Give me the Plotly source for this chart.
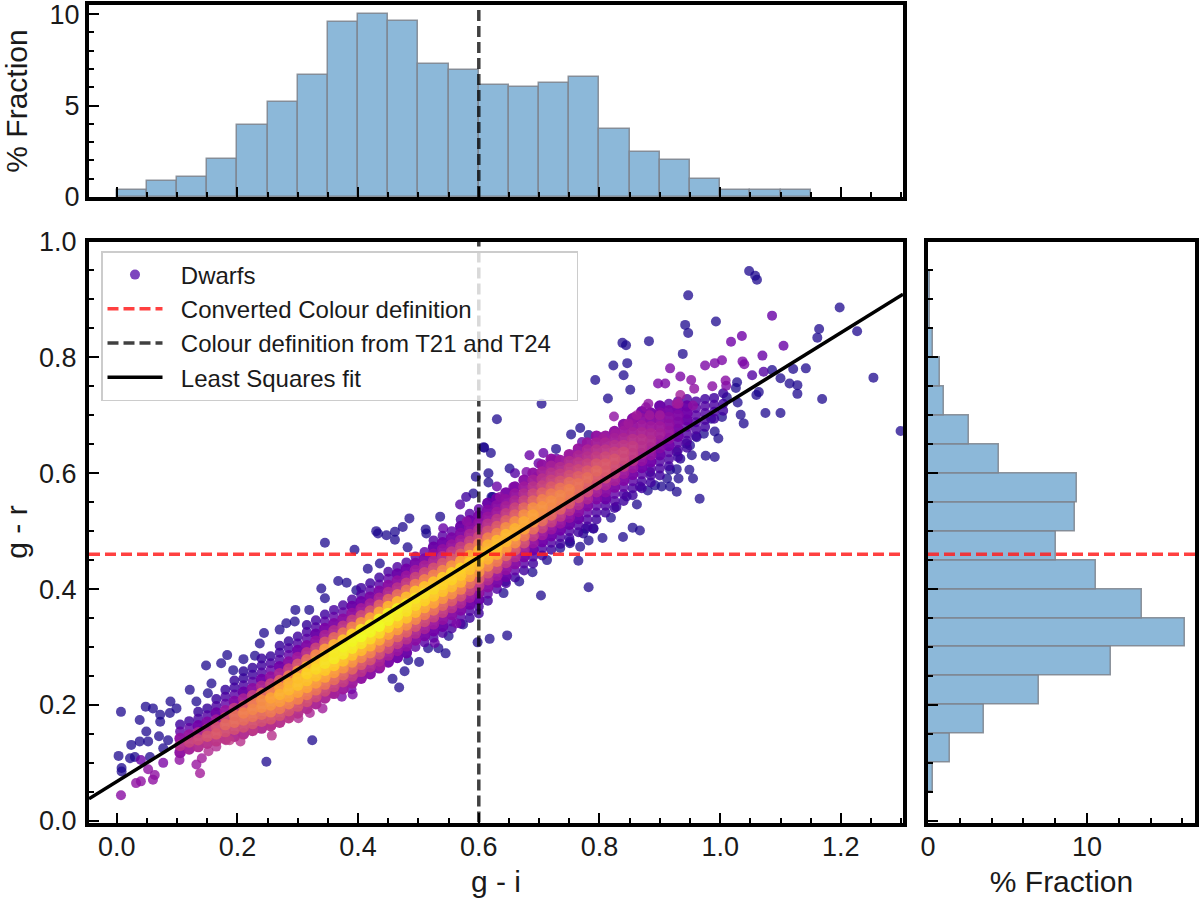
import numpy as np
import plotly.graph_objects as go

# All colour values are stored in thousandths of a magnitude, densities in percent.
hist_gi_edges = [round(i * 0.05, 2) for i in range(23)]
hist_gi_share = [0.4, 0.85, 1.07, 2.1, 3.93, 5.18, 6.68, 9.55, 10.0, 9.65, 7.27, 6.92,
                 6.1, 6.0, 6.23, 6.58, 3.7, 2.45, 2.0, 0.96, 0.4, 0.4, 0.4]
hist_gr_edges = [round(0.05 + i * 0.05, 2) for i in range(18)]
hist_gr_share = [0.33, 1.38, 3.52, 6.96, 11.5, 16.2, 13.46, 10.55, 8.03, 9.25, 9.35,
                 4.45, 2.6, 1.0, 0.75, 0.33, 0.12, 0.1]

gr_definition = 0.46
gi_definition = 0.6
fit_gi = [-0.046, 1.303]
fit_gr = [0.038, 0.909]

# The crowded ridge of the sample: one gi value per column, with its gr values and densities.
band_gi = [105, 120, 135, 150, 165, 180, 195, 210, 225, 240, 255, 270, 285, 300, 315, 330, 345,
           360, 375, 390, 405, 420, 435, 450, 465, 480, 495, 510, 525, 540, 555, 570, 585, 600,
           615, 630, 645, 660, 675, 690, 705, 720, 735, 750, 765, 780, 795, 810, 825, 840, 855,
           870, 885, 900, 915, 930, 945, 960, 975, 990, 1005]
band_gr = [
    [118,130,142,154,166], [124,136,148,160,172], [128,140,152,164,176,188],
    [134,146,158,170,182,194], [138,150,162,174,186,198,210], [142,154,166,178,190,202,214,226],
    [146,158,170,182,194,206,218,230,242], [150,162,174,186,198,210,222,234,246,258],
    [156,168,180,192,204,216,228,240,252,264], [160,172,184,196,208,220,232,244,256,268,280],
    [164,176,188,200,212,224,236,248,260,272,284], [170,182,194,206,218,230,242,254,266,278,290,302],
    [178,190,202,214,226,238,250,262,274,286,298,310], [186,198,210,222,234,246,258,270,282,294,306,318],
    [194,206,218,230,242,254,266,278,290,302,314,326,338], [202,214,226,238,250,262,274,286,298,310,322,334,346],
    [212,224,236,248,260,272,284,296,308,320,332,344,356], [220,232,244,256,268,280,292,304,316,328,340,352,364],
    [228,240,252,264,276,288,300,312,324,336,348,360,372], [238,250,262,274,286,298,310,322,334,346,358,370,382],
    [246,258,270,282,294,306,318,330,342,354,366,378,390,402], [254,266,278,290,302,314,326,338,350,362,374,386,398,410],
    [264,276,288,300,312,324,336,348,360,372,384,396,408,420], [274,286,298,310,322,334,346,358,370,382,394,406,418,430],
    [282,294,306,318,330,342,354,366,378,390,402,414,426,438], [290,302,314,326,338,350,362,374,386,398,410,422,434,446],
    [300,312,324,336,348,360,372,384,396,408,420,432,444,456], [308,320,332,344,356,368,380,392,404,416,428,440,452,464],
    [316,328,340,352,364,376,388,400,412,424,436,448,460,472,484], [324,336,348,360,372,384,396,408,420,432,444,456,468,480,492],
    [332,344,356,368,380,392,404,416,428,440,452,464,476,488,500], [340,352,364,376,388,400,412,424,436,448,460,472,484,496,508,520],
    [350,362,374,386,398,410,422,434,446,458,470,482,494,506,518,530], [358,370,382,394,406,418,430,442,454,466,478,490,502,514,526,538],
    [380,392,404,416,428,440,452,464,476,488,500,512,524,536,548], [400,412,424,436,448,460,472,484,496,508,520,532,544,556],
    [410,422,434,446,458,470,482,494,506,518,530,542,554,566], [420,432,444,456,468,480,492,504,516,528,540,552,564,576],
    [432,444,456,468,480,492,504,516,528,540,552,564,576,588], [444,456,468,480,492,504,516,528,540,552,564,576,588,600],
    [458,470,482,494,506,518,530,542,554,566,578,590,602,614], [468,480,492,504,516,528,540,552,564,576,588,600,612,624],
    [478,490,502,514,526,538,550,562,574,586,598,610,622], [488,500,512,524,536,548,560,572,584,596,608,620,632],
    [498,510,522,534,546,558,570,582,594,606,618,630,642], [508,520,532,544,556,568,580,592,604,616,628,640,652],
    [520,532,544,556,568,580,592,604,616,628,640,652,664], [532,544,556,568,580,592,604,616,628,640,652,664],
    [540,552,564,576,588,600,612,624,636,648,660,672], [552,564,576,588,600,612,624,636,648,660,672,684],
    [562,574,586,598,610,622,634,646,658,670,682,694], [574,586,598,610,622,634,646,658,670,682,694,706],
    [584,596,608,620,632,644,656,668,680,692,704], [596,608,620,632,644,656,668,680,692,704,716],
    [612,624,636,648,660,672,684,696,708,720], [628,640,652,664,676,688,700,712,724],
    [644,656,668,680,692,704,716,728], [664,676,688,700,712,724], [680,692,704,716,728],
    [694,706,718,730], [708,720,738],
]
band_density = [
    [30,42,30,18,10], [36,48,32,18,10], [40,50,38,22,12,8], [42,54,44,26,14,8], [44,56,52,34,20,12,8],
    [44,52,60,50,32,18,12,8], [40,52,62,62,44,26,16,10,8], [40,52,62,68,56,36,20,12,8,6],
    [42,54,64,70,66,46,28,16,10,8], [40,52,62,72,72,60,38,22,14,10,8], [42,54,66,74,78,68,48,30,18,12,8],
    [42,54,66,76,82,76,58,38,22,14,10,8], [44,54,68,78,84,82,66,46,28,18,12,8], [42,54,68,78,86,86,74,54,34,22,14,10],
    [40,52,66,78,86,90,82,62,42,26,16,12,8], [38,50,64,76,86,92,88,70,48,30,20,14,10],
    [38,50,64,78,88,94,92,76,54,36,24,16,10], [36,48,62,76,88,96,96,82,60,40,26,18,12],
    [34,46,60,74,86,96,98,86,64,44,28,18,12], [34,46,60,74,86,96,99,90,68,46,30,20,12],
    [30,42,56,70,84,94,100,94,74,50,34,22,14,10], [28,40,54,68,82,92,99,96,78,54,36,24,16,10],
    [28,38,52,66,80,92,100,98,80,58,38,26,16,10], [24,36,50,64,78,90,98,98,82,60,40,28,18,12],
    [22,32,46,60,76,88,96,98,84,62,42,30,20,14], [20,30,42,58,72,86,94,96,84,64,46,32,22,14],
    [18,28,40,54,70,84,92,95,86,66,48,34,24,16], [16,24,36,50,66,80,90,94,86,68,50,36,26,18],
    [14,22,34,48,64,78,88,92,86,68,52,38,28,20,14], [14,20,30,46,60,74,86,90,88,70,54,40,30,22,16],
    [12,18,28,42,56,72,84,90,90,74,56,44,32,24,18], [12,16,26,38,52,68,82,88,90,78,58,46,34,26,20,14],
    [10,14,22,34,48,62,78,86,88,80,62,48,38,28,22,16], [10,12,20,30,44,58,74,84,88,82,66,50,40,30,24,18],
    [10,18,28,40,54,70,82,86,82,68,52,42,32,26,20], [14,24,34,50,66,80,86,84,70,56,44,34,28,22],
    [12,20,30,44,60,76,84,84,72,58,46,36,30,24], [10,18,28,40,56,72,82,82,72,58,48,38,32,26],
    [10,16,24,36,52,66,78,80,72,60,48,40,34,28], [10,14,22,32,46,62,74,78,72,60,50,42,36,30],
    [10,14,22,34,48,62,72,74,68,58,48,42,36,30], [10,14,22,32,46,60,70,72,66,56,48,42,36,30],
    [10,14,22,32,44,58,68,70,64,54,46,40,34], [10,14,20,30,42,56,66,68,62,52,46,40,34],
    [10,14,20,28,40,52,62,64,58,50,44,38,32], [10,14,18,26,38,50,58,62,56,48,42,38,32],
    [10,12,18,26,36,48,56,60,54,46,42,36,30], [10,14,20,28,38,50,56,56,50,44,38,32],
    [10,14,18,26,36,46,52,54,48,42,36,30], [10,12,18,26,34,44,50,50,44,38,34,28],
    [10,12,16,24,32,42,46,46,42,36,32,26], [10,12,16,22,30,38,42,42,38,34,30,24],
    [10,12,16,22,30,36,40,38,34,28,24], [10,12,14,20,26,32,36,34,30,26,20],
    [10,12,16,22,28,32,30,28,24,18], [10,12,16,20,24,26,26,22,16],
    [10,12,14,18,20,22,20,14], [10,12,14,16,16,12], [10,12,14,14,10], [10,12,12,10], [10,10,8],
]

# Isolated dwarfs far from the ridge.
sparse_gi = [1048,1058,1061,947,1198,993,942,947,1164,1227,1161,882,838,844,938,846,823,1254,840,793,
             1142,1121,1086,1100,1115,1128,1128,1169,1075,1100,1299,851,814,704,630,609,620,1028,1026,1011,
             1064,1060,1029,1034,1039,1003,985,768,753,782,728,651,616,616,623,961,973,991,997,976,
             991,950,953,949,955,917,928,931,912,903,917,892,880,928,966,862,819,855,867,790,
             777,805,839,782,768,751,735,713,765,689,667,644,641,703,782,618,647,598,7,3,
             8,8,22,30,24,38,49,52,38,48,60,72,72,89,99,88,70,85,77,55,
             121,132,148,157,151,173,183,193,210,229,237,244,270,281,295,296,319,339,345,367,
             381,397,416,436,574,550,545,533,516,501,483,477,457,468,324,248,345,394,482,433,
             447,461,513,608,595,591,536,485,474,461,430,512,621]
sparse_gr = [949,941,934,907,886,862,856,842,849,845,834,828,825,821,806,790,786,765,769,761,
             781,780,778,764,755,752,737,728,704,704,673,744,729,720,693,644,635,757,747,731,
             740,735,722,701,686,697,694,678,667,666,642,608,600,584,559,662,668,672,660,630,
             628,648,631,606,591,606,607,591,591,577,577,579,570,568,556,546,523,506,501,504,
             504,488,490,484,473,482,471,450,449,429,413,413,393,389,403,314,320,308,188,112,
             91,85,108,110,131,137,154,137,174,197,194,183,171,206,194,186,146,139,125,110,
             226,206,268,237,220,272,286,260,279,285,306,324,330,341,344,364,364,401,384,414,
             411,398,435,444,339,319,289,298,298,274,277,258,245,230,139,102,480,468,472,496,
             493,485,496,645,594,565,525,522,507,499,500,503,559]
sparse_density = [3] * len(sparse_gi)

# Points on the fringe of the ridge, a little less isolated.
fringe_gi = [1086,1036,1018,1105,1070,1003,991,975,1037,1040,917,934,1072,1053,897,909,952,957,987,1009,
             1010,934,928,881,877,858,842,824,771,707,684,721,699,679,660,630,7,32,40,60,
             63,40,77,52,104,132,138,141,152,165,391,373,389,357,341,320,301,287,257,257,
             205,181,580,541,569,579,
             806,826,848,862,883,900,751,729,721,696,657,635,931,955,928,944,934,884,867,845,
             828,790,773,751,527,563,437,396,304,226,187]
fringe_gr = [872,837,827,820,803,795,790,786,793,788,781,767,775,769,755,755,761,746,750,760,
             751,735,720,720,714,697,682,698,654,635,631,618,617,602,600,577,44,65,68,71,
             79,105,100,89,105,97,82,108,120,128,218,214,227,220,194,186,177,182,147,166,
             137,139,517,505,546,559,
             660,668,686,700,700,700,631,625,622,594,576,559,720,717,637,651,625,602,577,560,
             542,505,496,479,307,341,266,255,206,157,139]
fringe_density = [20,22,22,20,20,25,25,25,25,25,25,25,15,15,25,25,28,30,28,28,
                  25,35,35,30,30,32,32,30,20,20,20,20,20,25,15,20,28,30,30,30,
                  30,20,25,30,30,32,35,35,40,40,25,25,22,30,35,38,40,42,42,42,
                  42,42,30,20,15,10,
                  35,35,35,35,35,35,30,20,20,30,25,30,35,30,5,5,5,8,10,8,
                  8,8,5,5,20,25,35,40,42,45,45]

WIDTH, HEIGHT = 1200, 900
FONT = "Liberation Sans"
TICK_SIZE = 27
TITLE_SIZE = 30
BAR_FILL = "#8cb8d9"
BAR_EDGE = "rgba(125,130,140,0.85)"
RED = "rgba(255,30,30,0.85)"
DARK = "rgba(0,0,0,0.75)"
DASH = "11px,5px"
NBSP = "\u00a0"


def hspan(left, right):
    return [left / WIDTH, right / WIDTH]


def vspan(top, bottom):
    return [1 - bottom / HEIGHT, 1 - top / HEIGHT]


def frame(**extra):
    return dict(showline=True, mirror=True, linewidth=4, linecolor="black", showgrid=False,
                zeroline=False, automargin=False, ticks="inside", ticklen=10, tickwidth=1.5,
                tickcolor="black", ticklabeloverflow="allow",
                tickfont=dict(family=FONT, size=TICK_SIZE, color="#1a1a1a"), **extra)


def minor(step):
    return dict(ticks="inside", dtick=step, ticklen=5, tickwidth=1.5, tickcolor="black")


# Merge the ridge columns with the outlying points, densest drawn last.
dense_x = [g for g, col in zip(band_gi, band_gr) for _ in col]
dense_y = [v for col in band_gr for v in col]
dense_d = [v for col in band_density for v in col]
all_x = np.array(dense_x + fringe_gi + sparse_gi) / 1000
all_y = np.array(dense_y + fringe_gr + sparse_gr) / 1000
all_d = np.array(dense_d + fringe_density + sparse_density) / 100
# The crowded points pile up and read as opaque; the scattered ones stay translucent.
all_alpha = np.array([0.97 if v >= 20 else 0.82 for v in dense_d]
                     + [0.8] * len(fringe_gi) + [0.75] * len(sparse_gi))
all_size = np.array([11.5 if v >= 20 else 10 for v in dense_d]
                    + [10] * (len(fringe_gi) + len(sparse_gi)))
order = np.argsort(all_d)

x_range = [-0.046, 1.303]
y_range = [-0.003, 1.0]
top_range = [0, 10.5]
side_range = [0, 16.8]

fig = go.Figure()
fig.add_trace(go.Scatter(
    x=all_x[order], y=all_y[order], mode="markers", showlegend=False,
    marker=dict(size=all_size[order], color=all_d[order], colorscale="Plasma", cmin=0, cmax=1,
                opacity=all_alpha[order], line=dict(width=0)),
))
fig.add_trace(go.Scatter(
    x=[None], y=[None], mode="markers", name=NBSP * 2 + "Dwarfs",
    marker=dict(size=10, color="rgb(125,70,190)"),
))
fig.add_trace(go.Scatter(
    x=x_range, y=[gr_definition, gr_definition], mode="lines",
    name=NBSP * 2 + "Converted Colour definition",
    line=dict(color=RED, width=3.5, dash=DASH),
))
fig.add_trace(go.Scatter(
    x=[gi_definition, gi_definition], y=y_range, mode="lines",
    name=NBSP * 2 + "Colour definition from T21 and T24" + NBSP * 3,
    line=dict(color=DARK, width=3.5, dash=DASH),
))
fig.add_trace(go.Scatter(
    x=fit_gi, y=fit_gr, mode="lines", name=NBSP * 2 + "Least Squares fit",
    line=dict(color="black", width=3.5),
))

# Marginal distribution of g - i above the scatter.
fig.add_trace(go.Bar(
    x=hist_gi_edges, y=hist_gi_share, width=0.05, offset=0, xaxis="x2", yaxis="y2", showlegend=False,
    marker=dict(color=BAR_FILL, line=dict(color=BAR_EDGE, width=1.5)),
))
fig.add_trace(go.Scatter(
    x=[gi_definition, gi_definition], y=top_range, mode="lines", xaxis="x2", yaxis="y2", showlegend=False,
    line=dict(color=DARK, width=3.5, dash=DASH),
))

# Marginal distribution of g - r beside the scatter.
fig.add_trace(go.Bar(
    y=hist_gr_edges, x=hist_gr_share, width=0.05, offset=0, orientation="h", xaxis="x3", yaxis="y3",
    showlegend=False, marker=dict(color=BAR_FILL, line=dict(color=BAR_EDGE, width=1.5)),
))
fig.add_trace(go.Scatter(
    x=side_range, y=[gr_definition, gr_definition], mode="lines", xaxis="x3", yaxis="y3", showlegend=False,
    line=dict(color=RED, width=3.5, dash=DASH),
))

fig.update_layout(
    width=WIDTH, height=HEIGHT, autosize=False, margin=dict(l=0, r=0, t=0, b=0),
    paper_bgcolor="white", plot_bgcolor="white", bargap=0, hovermode=False,
    font=dict(family=FONT, color="#1a1a1a"),
    xaxis=frame(domain=hspan(89, 903), range=x_range, tick0=0, dtick=0.2, tickformat=".1f", anchor="y",
                minor=minor(0.05), ticklabelstandoff=-3,
                title=dict(text="g - i", font=dict(size=TITLE_SIZE), standoff=11)),
    yaxis=frame(domain=vspan(241.5, 822.5), range=y_range, tick0=0, dtick=0.2, tickformat=".1f", anchor="x",
                minor=minor(0.05), ticklabelstandoff=3,
                title=dict(text="g - r", font=dict(size=TITLE_SIZE), standoff=17)),
    xaxis2=frame(domain=hspan(89, 903), range=x_range, tick0=0, dtick=0.2, anchor="y2",
                 minor=minor(0.05), showticklabels=False),
    yaxis2=frame(domain=vspan(5, 197), range=top_range, tick0=0, dtick=5, anchor="x2",
                 minor=minor(1), title=dict(text="% Fraction", font=dict(size=TITLE_SIZE), standoff=23)),
    xaxis3=frame(domain=hspan(928, 1195), range=side_range, tick0=0, dtick=10, anchor="y3",
                 minor=minor(2), ticklabelstandoff=-3,
                 title=dict(text="% Fraction", font=dict(size=TITLE_SIZE), standoff=11)),
    yaxis3=frame(domain=vspan(241.5, 822.5), range=y_range, tick0=0, dtick=0.2, anchor="x3",
                 minor=minor(0.05), showticklabels=False),
    legend=dict(x=101 / WIDTH, y=1 - 251 / HEIGHT, xanchor="left", yanchor="top",
                bgcolor="rgba(255,255,255,0.8)", bordercolor="#cccccc", borderwidth=1.5,
                itemwidth=55, font=dict(family=FONT, size=24, color="#1a1a1a")),
)

fig.write_html("out.html", config={"displayModeBar": False})
